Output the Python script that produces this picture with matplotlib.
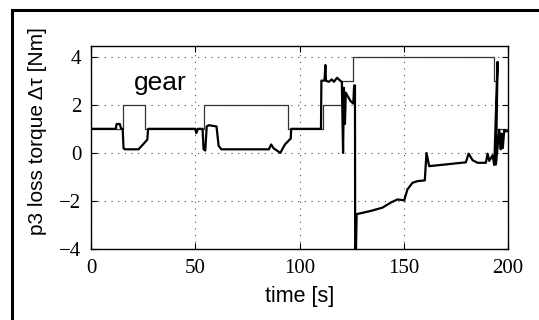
import matplotlib
matplotlib.use('Agg')
import matplotlib.pyplot as plt
from matplotlib.patches import Rectangle

# gear signal (step values)
gear_t = [0, 15.2, 15.2, 26.0, 26.0, 54.2, 54.2, 94.3, 94.3, 111.5, 111.5, 120.5, 120.5,
          125.5, 125.5, 193.2, 193.2, 194.3, 194.3, 200]
gear_v = [1, 1, 2, 2, 1, 1, 2, 2, 1, 1, 2, 2, 3, 3, 4, 4, 3, 3, 1, 1]

# loss torque estimate
torque_t = [0, 11.9, 12.3, 13.8, 14.5, 15.2, 15.6, 16.2, 22.8, 26.5, 27.0, 27.4,
            50.0, 50.5, 51.2, 53.5, 54.0, 54.8, 55.5, 56.5, 60.2, 61.2, 62.5,
            85.3, 86.4, 87.5, 90.8, 93.0, 95.8, 96.0,
            110.3, 110.5, 112.0, 112.4, 112.7, 114.0, 115.5, 116.5, 118.0, 119.5, 120.3,
            120.9, 121.3, 121.8, 122.2, 123.5, 124.5, 125.8, 126.2, 126.6, 126.7, 127.1,
            127.4, 134.1, 139.8, 143.8, 147.0, 150.2, 151.8, 154.2, 156.6, 160.1, 160.9,
            162.2, 179.8, 181.1, 183.0, 185.4, 189.4, 190.2, 191.0, 192.6, 193.4,
            195.0, 194.2, 195.8, 196.5, 197.0, 197.5, 198.2, 198.6, 200]
torque_v = [1.0, 1.0, 1.2, 1.2, 1.0, 1.0, 0.2, 0.15, 0.15, 0.5, 0.55, 1.0,
            1.0, 0.82, 1.0, 1.0, 0.15, 0.1, 1.1, 1.15, 1.1, 0.3, 0.15,
            0.15, 0.35, 0.2, 0.0, 0.35, 0.6, 1.0,
            1.0, 3.0, 3.0, 3.65, 3.0, 2.95, 3.05, 2.95, 3.12, 3.0, 2.95,
            0.0, 2.7, 1.2, 2.5, 2.3, 2.15, 2.05, 2.8, 2.8, -4.0, -4.0,
            -2.54, -2.41, -2.27, -2.06, -1.93, -1.97, -1.51, -1.24, -1.17, -1.14, 0.0,
            -0.55, -0.39, -0.03, -0.3, -0.41, -0.41, -0.03, -0.33, -0.1, -0.5,
            3.78, -0.48, 0.96, 0.15, 0.8, 0.2, 0.95, 0.9, 0.9]

xticks = [0, 50, 100, 150, 200]
yticks = [-4, -2, 0, 2, 4]

fig = plt.figure(figsize=(5.39, 3.2), dpi=100)
ax = fig.add_axes([91 / 539, 1 - 249.3 / 320, 417 / 539, 203.6 / 320])

ax.plot(gear_t, gear_v, color='0.2', lw=0.9)
ax.plot(torque_t, torque_v, color='black', lw=1.6)

ax.set_xlim(0, 200)
ax.set_ylim(-4, 4.45)
ax.set_xticks(xticks)
ax.set_yticks(yticks)
ax.set_xticklabels([str(x) for x in xticks], family='Liberation Serif', fontsize=15)
ax.set_yticklabels([str(y).replace('-', '\u2212') for y in yticks],
                   family='Liberation Serif', fontsize=15)
ax.tick_params(direction='in', top=True, right=True, length=4, width=0.8, pad=7)
ax.grid(True, linestyle=(0, (1, 5)), color='0.3', lw=0.8)
for s in ax.spines.values():
    s.set_linewidth(1.0)

ax.set_xlabel('time [s]', family='Liberation Sans', fontsize=15.5, labelpad=6)
ax.set_ylabel('p3 loss torque \u0394\u03c4 [Nm]', family='Liberation Sans', fontsize=15)
ax.yaxis.set_label_coords(-0.106, 0.58)
ax.text(33, 2.9, 'gear', family='Liberation Sans', fontsize=19, ha='center', va='center')

# outer frame
fig.patches.append(Rectangle((12 / 539, -0.1), 1.2, 1.1 - 10 / 320, transform=fig.transFigure,
                             fill=False, edgecolor='black', lw=2.2, clip_on=False))

fig.savefig('out.png', dpi=100)
